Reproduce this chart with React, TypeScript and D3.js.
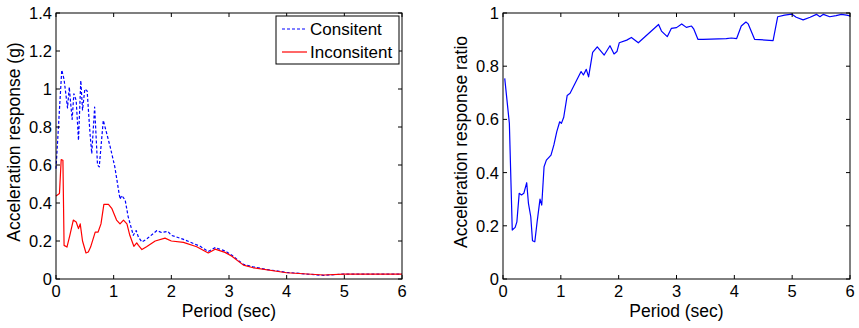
import React from "react";
import * as d3 from "d3";

const xTicks = [0, 1, 2, 3, 4, 5, 6];
const leftYTicks = [0, 0.2, 0.4, 0.6, 0.8, 1, 1.2, 1.4];
const rightYTicks = [0, 0.2, 0.4, 0.6, 0.8, 1];

const consistentPeriod = [0, 0.1, 0.14, 0.2, 0.23, 0.25, 0.28, 0.31, 0.35, 0.39, 0.43, 0.46, 0.5, 0.54, 0.59, 0.62, 0.67, 0.72, 0.75, 0.82, 0.88, 0.94, 1.02, 1.11, 1.14, 1.2, 1.25, 1.34, 1.39, 1.43, 1.49, 1.57, 1.75, 1.83, 1.94, 2.0, 2.2, 2.5, 2.64, 2.76, 2.93, 3.05, 3.25, 3.42, 3.65, 4.0, 4.35, 4.64, 4.82, 5.0, 6.0];
const consistentAcc = [0.58, 1.1, 1.05, 0.9, 1.01, 0.94, 0.84, 0.975, 0.94, 0.73, 1.045, 0.89, 1.0, 0.99, 0.765, 0.66, 0.905, 0.6, 0.59, 0.835, 0.765, 0.695, 0.59, 0.42, 0.44, 0.415, 0.33, 0.23, 0.255, 0.22, 0.195, 0.21, 0.255, 0.245, 0.25, 0.23, 0.21, 0.172, 0.145, 0.165, 0.148, 0.125, 0.077, 0.064, 0.05, 0.035, 0.026, 0.019, 0.023, 0.026, 0.026];

const inconsistentPeriod = [0, 0.06, 0.09, 0.12, 0.14, 0.19, 0.24, 0.3, 0.35, 0.39, 0.42, 0.46, 0.52, 0.56, 0.6, 0.68, 0.73, 0.78, 0.83, 0.91, 0.97, 1.05, 1.11, 1.17, 1.23, 1.28, 1.35, 1.4, 1.43, 1.49, 1.57, 1.72, 1.89, 2.0, 2.21, 2.44, 2.64, 2.76, 2.93, 3.05, 3.25, 3.42, 4.0, 4.64, 5.0, 6.0];
const inconsistentAcc = [0.437, 0.45, 0.628, 0.625, 0.177, 0.168, 0.23, 0.31, 0.3, 0.265, 0.29, 0.2, 0.137, 0.142, 0.168, 0.247, 0.247, 0.29, 0.393, 0.393, 0.37, 0.31, 0.29, 0.31, 0.29, 0.23, 0.172, 0.19, 0.177, 0.155, 0.17, 0.2, 0.215, 0.2, 0.193, 0.17, 0.137, 0.157, 0.14, 0.12, 0.073, 0.059, 0.033, 0.021, 0.026, 0.026];

const ratioPeriod = [0.03, 0.11, 0.16, 0.21, 0.24, 0.28, 0.32, 0.36, 0.41, 0.44, 0.48, 0.51, 0.55, 0.59, 0.64, 0.67, 0.71, 0.75, 0.83, 0.88, 0.93, 0.98, 1.01, 1.05, 1.11, 1.16, 1.35, 1.39, 1.44, 1.48, 1.55, 1.63, 1.75, 1.85, 1.92, 1.97, 2.01, 2.14, 2.22, 2.34, 2.69, 2.74, 2.84, 2.91, 3.0, 3.09, 3.17, 3.26, 3.3, 3.37, 3.46, 3.86, 3.95, 4.04, 4.12, 4.2, 4.24, 4.35, 4.44, 4.67, 4.75, 4.87, 4.99, 5.07, 5.19, 5.31, 5.42, 5.48, 5.54, 5.65, 5.76, 5.85, 5.94, 6.0];
const ratioValue = [0.754, 0.585, 0.184, 0.194, 0.215, 0.322, 0.316, 0.322, 0.362, 0.284, 0.234, 0.144, 0.14, 0.215, 0.3, 0.278, 0.422, 0.447, 0.466, 0.504, 0.554, 0.591, 0.585, 0.608, 0.69, 0.698, 0.78, 0.767, 0.788, 0.76, 0.852, 0.873, 0.842, 0.877, 0.846, 0.855, 0.888, 0.898, 0.908, 0.888, 0.957, 0.932, 0.911, 0.942, 0.945, 0.959, 0.946, 0.951, 0.939, 0.901, 0.901, 0.904, 0.906, 0.904, 0.951, 0.966, 0.959, 0.901, 0.9, 0.896, 0.986, 0.992, 0.996, 0.984, 0.974, 0.984, 0.995, 0.986, 0.995, 0.986, 0.99, 0.995, 0.992, 0.989];

const FONT = "'Liberation Sans', Arial, Helvetica, sans-serif";

type Series = { xs: number[]; ys: number[]; color: string; dash?: string; width: number };

function Panel(props: {
  x0: number; x1: number; y0: number; y1: number; yMax: number; yTicks: number[];
  ylabel: string; ylabelX: number; series: Series[]; legend?: boolean;
}) {
  const { x0, x1, y0, y1, yMax, yTicks, ylabel, ylabelX, series, legend } = props;
  const x = d3.scaleLinear().domain([0, 6]).range([x0, x1]);
  const y = d3.scaleLinear().domain([0, yMax]).range([y1, y0]);
  const tl = 4;
  const fmt = (v: number) => String(Math.round(v * 10) / 10);
  return (
    <g>
      {series.map((s, i) => {
        const line = d3.line<number>().x((_, j) => x(s.xs[j])).y((d) => y(d));
        return (
          <path key={i} d={line(s.ys) || ""} fill="none" stroke={s.color} strokeWidth={s.width}
            strokeDasharray={s.dash} strokeLinejoin="round" />
        );
      })}
      <rect x={x0} y={y0} width={x1 - x0} height={y1 - y0} fill="none" stroke="#000" strokeWidth={1} />
      {xTicks.map((t) => (
        <g key={"x" + t}>
          <line x1={x(t)} x2={x(t)} y1={y1} y2={y1 - tl} stroke="#000" />
          <line x1={x(t)} x2={x(t)} y1={y0} y2={y0 + tl} stroke="#000" />
          <text x={x(t)} y={y1 + 18} textAnchor="middle" fontSize={16.5} fontFamily={FONT}>{t}</text>
        </g>
      ))}
      {yTicks.map((t) => (
        <g key={"y" + t}>
          <line x1={x0} x2={x0 + tl} y1={y(t)} y2={y(t)} stroke="#000" />
          <line x1={x1} x2={x1 - tl} y1={y(t)} y2={y(t)} stroke="#000" />
          <text x={x0 - 4} y={y(t) + 6} textAnchor="end" fontSize={16.5} fontFamily={FONT}>{fmt(t)}</text>
        </g>
      ))}
      <text x={(x0 + x1) / 2} y={y1 + 38} textAnchor="middle" fontSize={17.5} fontFamily={FONT}>Period (sec)</text>
      <text transform={`translate(${ylabelX},${(y0 + y1) / 2 - 4}) rotate(-90)`} textAnchor="middle" fontSize={17.5} fontFamily={FONT}>{ylabel}</text>
      {legend && (
        <g>
          <rect x={276} y={16} width={123} height={48} fill="#fff" stroke="#000" />
          <line x1={282} x2={307} y1={29} y2={29} stroke="#0000ff" strokeWidth={1.2} strokeDasharray="3,2" />
          <text x={310} y={35} fontSize={17} fontFamily={FONT}>Consitent</text>
          <line x1={282} x2={307} y1={52} y2={52} stroke="#ff0000" strokeWidth={1.2} />
          <text x={310} y={57.5} fontSize={17} fontFamily={FONT}>Inconsitent</text>
        </g>
      )}
    </g>
  );
}

export default function App() {
  return (
    <svg width={859} height={328} style={{ position: "absolute", left: 0, top: 0, background: "#fff" }}>
      <Panel x0={56} x1={402} y0={13} y1={279} yMax={1.4} yTicks={leftYTicks}
        ylabel="Acceleration response (g)" ylabelX={20}
        series={[
          { xs: consistentPeriod, ys: consistentAcc, color: "#0000ff", dash: "3,2", width: 1.2 },
          { xs: inconsistentPeriod, ys: inconsistentAcc, color: "#ff0000", width: 1.2 },
        ]}
        legend />
      <Panel x0={503} x1={850} y0={13} y1={279} yMax={1} yTicks={rightYTicks}
        ylabel="Acceleration response ratio" ylabelX={467}
        series={[{ xs: ratioPeriod, ys: ratioValue, color: "#0000ff", width: 1.2 }]} />
    </svg>
  );
}
